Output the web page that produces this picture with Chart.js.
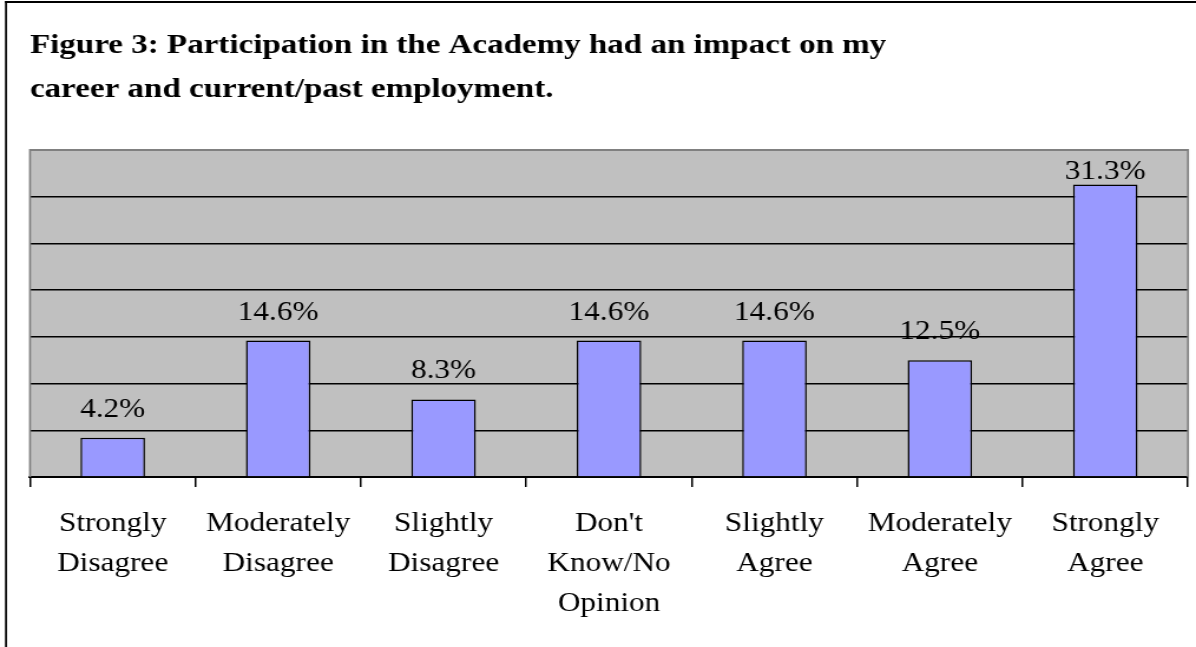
<!DOCTYPE html>
<html>
<head>
<meta charset="utf-8">
<script src="https://cdn.jsdelivr.net/npm/chart.js@4/dist/chart.umd.min.js"></script>
<style>
  html, body { margin: 0; padding: 0; background: #fff; overflow: hidden; }
  #wrap { position: absolute; left: 0; top: 0; width: 1014px; height: 647px;
          transform: scaleX(1.17949); transform-origin: 0 0; }
</style>
</head>
<body>
<div id="wrap"><canvas id="c" width="1014" height="647"></canvas></div>
<script>
// ---- data ----
const categories = [
  ['Strongly', 'Disagree'],
  ['Moderately', 'Disagree'],
  ['Slightly', 'Disagree'],
  ["Don't", 'Know/No', 'Opinion'],
  ['Slightly', 'Agree'],
  ['Moderately', 'Agree'],
  ['Strongly', 'Agree']
];
const percentValues = [4.2, 14.6, 8.3, 14.6, 14.6, 12.5, 31.3];
const titleLines = [
  'Figure 3: Participation in the Academy had an impact on my',
  'career and current/past employment.'
];
const yMin = 0, yMax = 35, yStep = 5;

const SX = 1.17949; // horizontal stretch applied by CSS
const FAMILY = '"Liberation Serif"';

const framePlugin = {
  id: 'frame',
  beforeDraw(chart) {
    const ctx = chart.ctx;
    const a = chart.chartArea;
    ctx.save();
    ctx.fillStyle = '#000';
    ctx.fillRect(5 / SX, 1, 2 / SX, chart.height);
    ctx.fillRect(5 / SX, 1, chart.width, 2);
    ctx.fillStyle = '#c0c0c0';
    ctx.fillRect(a.left, a.top, a.right - a.left, a.bottom - a.top);
    ctx.restore();
  },
  afterDraw(chart) {
    const ctx = chart.ctx;
    const a = chart.chartArea;
    ctx.save();
    ctx.fillStyle = '#808080';
    ctx.fillRect(a.left - 1 / SX, a.top - 1, 2 / SX, a.bottom - a.top + 1);
    ctx.fillRect(a.right - 1 / SX, a.top - 1, 2 / SX, a.bottom - a.top + 1);
    ctx.fillRect(a.left, a.top - 1, a.right - a.left, 2);
    ctx.restore();
  }
};

const labelPlugin = {
  id: 'barLabels',
  afterDatasetsDraw(chart) {
    const ctx = chart.ctx;
    const meta = chart.getDatasetMeta(0);
    const a = chart.chartArea;
    ctx.save();
    ctx.font = '26.5px ' + FAMILY;
    ctx.fillStyle = '#000';
    ctx.textAlign = 'center';
    ctx.textBaseline = 'alphabetic';
    meta.data.forEach((bar, i) => {
      let y = bar.y - 21;
      if (y < a.top + 29) y = a.top + 29;
      ctx.fillText(percentValues[i].toFixed(1) + '%', bar.x, y);
    });
    ctx.restore();
  }
};

function build() {
  new Chart(document.getElementById('c'), {
    type: 'bar',
    data: {
      labels: categories,
      datasets: [{
        data: percentValues,
        backgroundColor: '#9999ff',
        borderColor: '#000',
        borderWidth: 1.5,
        borderSkipped: 'bottom',
        barPercentage: 0.39,
        categoryPercentage: 1.0
      }]
    },
    options: {
      responsive: false,
      animation: false,
      devicePixelRatio: 1,
      layout: { padding: { left: 30 / SX, right: (1196 - 1188) / SX, top: 0, bottom: 6 } },
      plugins: {
        legend: { display: false },
        tooltip: { enabled: false },
        title: {
          display: true,
          text: titleLines,
          align: 'start',
          color: '#000',
          font: { family: FAMILY, size: 28, weight: 'bold', lineHeight: 44 / 28 },
          padding: { top: 23.5, bottom: 38.5 }
        }
      },
      scales: {
        x: {
          grid: { offset: true, drawOnChartArea: false, drawTicks: true, tickLength: 10, color: '#000', lineWidth: 1.5 },
          border: { display: true, color: '#000', width: 2 },
          ticks: {
            color: '#000',
            maxRotation: 0, minRotation: 0, autoSkip: false,
            padding: 17,
            font: { family: FAMILY, size: 26.5, lineHeight: 40 / 26.5 }
          }
        },
        y: {
          min: yMin, max: yMax,
          ticks: { stepSize: yStep, display: false },
          grid: {
            drawTicks: false,
            color: (c) => (c.tick && c.tick.value === yMax) ? 'rgba(0,0,0,0)' : '#000',
            lineWidth: 1.5
          },
          border: { display: false },
          afterFit(scale) { scale.width = 0; }
        }
      }
    },
    plugins: [framePlugin, labelPlugin]
  });
}

Promise.all([
  document.fonts.load('26.5px ' + FAMILY),
  document.fonts.load('bold 28px ' + FAMILY)
]).then(build, build);
</script>
</body>
</html>
